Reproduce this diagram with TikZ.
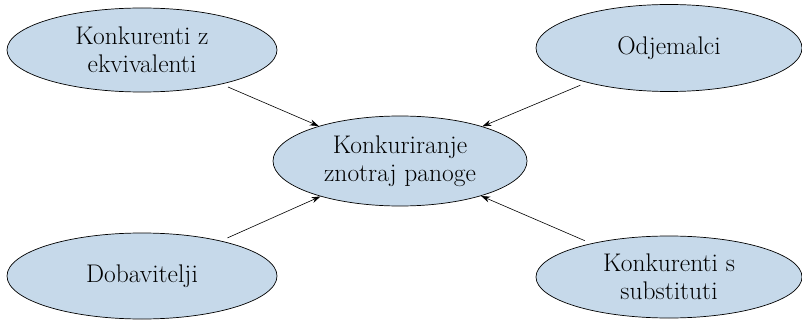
\documentclass[tikz,border=0pt]{standalone}
\usetikzlibrary{shapes.geometric,arrows.meta}
\definecolor{ellfill}{RGB}{198,217,234}
\begin{document}
\begin{tikzpicture}[x=1pt,y=-1pt,
  bubble/.style={ellipse,draw=black,line width=0.7pt,fill=ellfill,inner sep=0pt,
    align=center,font=\fontsize{25.5}{28}\selectfont},
  link/.style={-{Stealth[length=9pt,width=6pt]},line width=0.6pt,shorten <=7pt}]
\useasboundingbox (0,0) rectangle (802,323);
\node[bubble,minimum width=270pt,minimum height=84pt] (ekv) at (142,50) {Konkurenti z\\ekvivalenti};
\node[bubble,minimum width=266pt,minimum height=87pt] (odj) at (669,48) {Odjemalci};
\node[bubble,minimum width=254pt,minimum height=90pt] (pan) at (400,161) {Konkuriranje\\znotraj panoge};
\node[bubble,minimum width=270pt,minimum height=86pt] (dob) at (142,276) {Dobavitelji};
\node[bubble,minimum width=266pt,minimum height=82pt] (sub) at (669,277) {Konkurenti s\\substituti};
\draw[link] (ekv) -- (pan);
\draw[link] (odj) -- (pan);
\draw[link] (dob) -- (pan);
\draw[link] (sub) -- (pan);
\end{tikzpicture}
\end{document}
